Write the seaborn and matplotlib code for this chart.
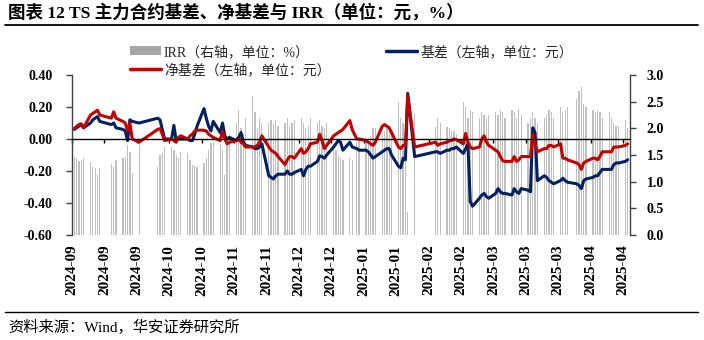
import numpy as np
import pandas as pd
import matplotlib
matplotlib.use('Agg')
import matplotlib.pyplot as plt
from matplotlib.patches import Patch
from matplotlib.lines import Line2D
import seaborn as sns

# ---------------- data ----------------
start_date = '2024-09-02'
end_date = '2025-04-29'
holidays = ['2024-09-16', '2024-09-17', '2024-10-01', '2024-10-02', '2024-10-03',
            '2024-10-04', '2024-10-07', '2025-01-01', '2025-01-28', '2025-01-29',
            '2025-01-30', '2025-01-31', '2025-02-03', '2025-02-04', '2025-04-04']

basis_sep = [0.06, 0.07, 0.08, 0.09, 0.07, 0.10, 0.12, 0.13, 0.14, 0.11, 0.09, 0.10, 0.07,
             0.06, 0.05, -0.01, 0.12, 0.11, 0.10]
basis_oct = [0.13, 0.12, 0.06, 0.00, 0.00, 0.085, -0.01, 0.00, 0.00, 0.00, -0.01, -0.01,
             0.03, 0.08, 0.19, 0.13, 0.08, 0.05]
basis_nov = [0.11, 0.04, 0.10, 0.02, 0.00, 0.01, -0.01, 0.01, 0.04, -0.02, -0.04, -0.05,
             -0.06, -0.06, -0.05, -0.03, -0.23, -0.24, -0.25, -0.23, -0.22]
basis_dec = [-0.22, -0.20, -0.22, -0.22, -0.21, -0.19, -0.23, -0.19, -0.17, -0.17, -0.14,
             -0.105, -0.11, -0.12, -0.10, -0.05, -0.03, -0.01, -0.02, -0.07, -0.02, -0.05]
basis_jan = [-0.06, -0.07, -0.07, -0.08, -0.10, -0.12, -0.11, -0.08, -0.07, -0.06, -0.06,
             -0.10, -0.17, -0.18, -0.12, -0.13, 0.285, -0.11]
basis_feb = [-0.08, -0.08, -0.09, -0.07, -0.07, -0.06, -0.06, -0.05, -0.09, -0.06, -0.03,
             -0.39, -0.42, -0.37, -0.35, -0.34, -0.36, -0.37]
basis_mar = [-0.34, -0.31, -0.33, -0.34, -0.34, -0.35, -0.31, -0.33, -0.34, -0.31, -0.32,
             -0.33, 0.07, 0.04, -0.26, -0.23, -0.24, -0.26, -0.27, -0.28, -0.26]
basis_apr = [-0.245, -0.26, -0.27, -0.28, -0.29, -0.31, -0.26, -0.25, -0.24, -0.23, -0.23,
             -0.21, -0.19, -0.19, -0.19, -0.16, -0.15, -0.15, -0.14, -0.13]

net_sep = [0.065, 0.08, 0.09, 0.095, 0.07, 0.15, 0.16, 0.17, 0.18, 0.15, 0.13, 0.17, 0.13,
           0.11, 0.10, 0.05, 0.10, 0.00, -0.02]
net_oct = [0.06, 0.065, 0.03, -0.01, 0.00, -0.01, -0.02, 0.01, 0.02, 0.00, 0.02, 0.03,
           0.05, 0.055, 0.055, 0.05, 0.03, 0.02]
net_nov = [0.01, -0.01, 0.05, 0.00, -0.03, -0.02, -0.01, 0.00, -0.02, -0.03, -0.05, -0.05,
           -0.05, -0.04, -0.02, 0.02, -0.05, -0.07, -0.08, -0.09, -0.11]
net_dec = [-0.16, -0.13, -0.11, -0.11, -0.12, -0.06, -0.09, -0.08, -0.06, -0.03, -0.02,
           0.03, -0.01, -0.06, -0.04, 0.02, 0.03, 0.04, 0.05, 0.06, 0.115, 0.06]
net_jan = [0.00, 0.00, -0.01, -0.02, -0.03, -0.04, -0.02, 0.08, 0.09, 0.08, 0.07, 0.04,
           -0.05, -0.06, -0.04, -0.04, 0.27, -0.05]
net_feb = [-0.02, -0.04, -0.03, -0.02, -0.01, -0.01, 0.00, -0.005, -0.03, 0.035, -0.02,
           -0.05, -0.06, -0.05, 0.00, 0.02, -0.02, -0.04]
net_mar = [-0.07, -0.08, -0.11, -0.135, -0.14, -0.14, -0.11, -0.14, -0.13, -0.11, -0.11,
           -0.11, 0.03, -0.03, -0.08, -0.06, -0.06, -0.04, -0.04, -0.05, -0.03]
net_apr = [-0.12, -0.12, -0.13, -0.15, -0.16, -0.19, -0.15, -0.14, -0.12, -0.12, -0.13,
           -0.11, -0.08, -0.08, -0.08, -0.05, -0.05, -0.05, -0.04, -0.03]

irr_sep = [1.46, 1.44, 1.38, 1.41, 1.44, 1.37, 1.28, 1.25, 1.13, 1.25, 1.34, 1.28, 1.41,
           1.44, 1.47, 1.69, 1.56, 1.16, 1.69]
irr_oct = [1.28, 1.50, 1.54, 1.65, 1.65, 1.60, 1.50, 1.45, 1.55, 1.54, 1.41, 1.31, 1.30,
           1.28, 1.35, 1.45, 1.60, 1.73]
irr_nov = [1.75, 1.70, 1.60, 1.13, 1.75, 1.90, 2.10, 2.35, 2.00, 1.90, 2.20, 2.60, 2.30,
           2.00, 2.20, 2.10, 2.10, 2.15, 2.10, 2.15, 2.05]
irr_dec = [2.10, 2.20, 2.05, 2.10, 2.15, 2.20, 2.10, 2.00, 2.05, 2.20, 2.10, 2.15, 2.05,
           2.00, 2.10, 1.70, 1.60, 1.50, 1.45, 1.40, 1.45, 1.40]
irr_jan = [1.75, 1.80, 1.75, 1.80, 1.85, 2.00, 2.00, 1.90, 1.95, 2.00, 2.05, 1.90, 2.50,
           2.20, 2.10, 1.95, 0.43, 2.28]
irr_feb = [2.03, 2.20, 2.10, 2.03, 2.00, 1.95, 1.95, 1.90, 2.50, 2.40, 2.20, 2.35, 2.30,
           2.20, 2.30, 2.25, 2.20, 2.25]
irr_mar = [2.30, 2.25, 2.35, 2.30, 2.20, 2.35, 2.30, 2.20, 2.37, 2.25, 2.10, 2.20, 2.30,
           2.20, 2.10, 2.20, 2.25, 2.35, 2.30, 2.20, 2.40]
irr_apr = [2.30, 2.35, 2.40, 2.55, 2.70, 2.77, 2.45, 2.40, 2.35, 2.30, 2.35, 2.30, 2.20,
           2.30, 2.20, 2.10, 2.05, 2.05, 2.15, 2.00]

# ---------------- frame ----------------
dates = pd.bdate_range(start_date, end_date)
dates = dates[~dates.isin(pd.to_datetime(holidays))]
basis = basis_sep + basis_oct + basis_nov + basis_dec + basis_jan + basis_feb + basis_mar + basis_apr
net = net_sep + net_oct + net_nov + net_dec + net_jan + net_feb + net_mar + net_apr
irr = irr_sep + irr_oct + irr_nov + irr_dec + irr_jan + irr_feb + irr_mar + irr_apr
df = pd.DataFrame({'date': dates, 'basis': basis, 'net': net, 'irr': irr})

sns.set_theme(style='ticks')
plt.rcParams['font.family'] = ['Liberation Serif', 'Noto Sans CJK SC']
plt.rcParams['axes.unicode_minus'] = False

W, H = 704, 340
fig = plt.figure(figsize=(W / 100, H / 100), dpi=100)
fig.patch.set_facecolor('white')
ax = fig.add_axes([72 / W, 1 - 235 / H, (630 - 72) / W, 160 / H])
ax2 = ax.twinx()

BLUE = '#002060'
RED = '#C00000'
GRAY = '#BFBFBF'

ax2.bar(df['date'], df['irr'], width=0.55, color=GRAY, linewidth=0, zorder=1)
sns.lineplot(data=df, x='date', y='basis', ax=ax, color=BLUE, lw=2.2, legend=False)
sns.lineplot(data=df, x='date', y='net', ax=ax, color=RED, lw=2.2, legend=False)
ax.set_zorder(ax2.get_zorder() + 1)
ax.patch.set_visible(False)

ax.set_xlim(pd.Timestamp('2024-09-01'), pd.Timestamp('2025-04-30'))
ax.set_ylim(-0.6, 0.4)
ax2.set_ylim(0, 3.0)
ax.set_xlabel('')
ax.set_ylabel('')
ax2.set_ylabel('')

tick_dates = pd.date_range('2024-09-01', periods=18, freq='14D')
tick_labels = [d.strftime('%Y-%m') for d in tick_dates]
ax.set_xticks(tick_dates)
ax.set_xticklabels(tick_labels)

ax.set_yticks(np.arange(-0.6, 0.401, 0.2))
ax.set_yticklabels([f'{v:.2f}' for v in np.arange(-0.6, 0.401, 0.2)])
ax2.set_yticks(np.arange(0, 3.01, 0.5))
ax2.set_yticklabels([f'{v:.1f}' for v in np.arange(0, 3.01, 0.5)])

SP = '#404040'
for s in ['top', 'right']:
    ax.spines[s].set_visible(False)
ax.spines['left'].set_color(SP)
ax.spines['left'].set_linewidth(1.0)
ax.spines['bottom'].set_position(('data', 0))
ax.spines['bottom'].set_color('black')
ax.spines['bottom'].set_linewidth(1.0)
for s in ['top', 'left', 'bottom']:
    ax2.spines[s].set_visible(False)
ax2.spines['right'].set_color(SP)
ax2.spines['right'].set_linewidth(1.0)

ax.tick_params(axis='x', which='both', bottom=True, labelbottom=False, direction='out',
               length=3, width=1, color='black')
ax.tick_params(axis='y', left=True, direction='out', length=4, width=1, color=SP,
               labelsize=10, pad=10, labelcolor='black')
ax2.tick_params(axis='y', right=True, direction='out', length=4, width=1, color=SP,
                labelsize=10, pad=8, labelcolor='black')
ax2.xaxis.set_visible(True)
ax2.tick_params(axis='x', bottom=True, labelbottom=True, length=0, labelsize=11,
                labelrotation=90, pad=7, labelcolor='black')
for lbl in ax.get_yticklabels() + ax2.get_yticklabels() + ax2.get_xticklabels():
    lbl.set_fontweight('bold')

# legend
handles = [Patch(facecolor='#A6A6A6', edgecolor='none'),
           Line2D([], [], color=RED, lw=2.5),
           Line2D([], [], color=BLUE, lw=2.5)]
labels = ['IRR（右轴，单位：%）', '净基差（左轴，单位：元）', '基差（左轴，单位：元）']
leg = fig.legend(handles, labels, loc='upper left', bbox_to_anchor=(130 / W, 1 - 45 / H),
                 ncol=2, frameon=False, fontsize=10, handlelength=2.2, handleheight=0.6,
                 handletextpad=0.25, columnspacing=4.0, labelspacing=0.32,
                 borderpad=0, borderaxespad=0)

# title, rules, source
fig.text(8 / W, 1 - 13 / H, '图表 12 TS 主力合约基差、净基差与 IRR（单位：元，%）',
         fontsize=12.6, fontweight='bold', va='center', ha='left', color='black')
fig.add_artist(Line2D([5 / W, 698 / W], [1 - 25 / H, 1 - 25 / H],
                      transform=fig.transFigure, color='black', lw=1.3))
fig.add_artist(Line2D([5 / W, 698 / W], [1 - 312 / H, 1 - 312 / H],
                      transform=fig.transFigure, color='black', lw=1.0))
fig.text(8 / W, 1 - 327 / H, '资料来源：Wind，华安证券研究所', fontsize=11,
         va='center', ha='left', color='black')

fig.savefig('out.png', dpi=100, facecolor='white')
